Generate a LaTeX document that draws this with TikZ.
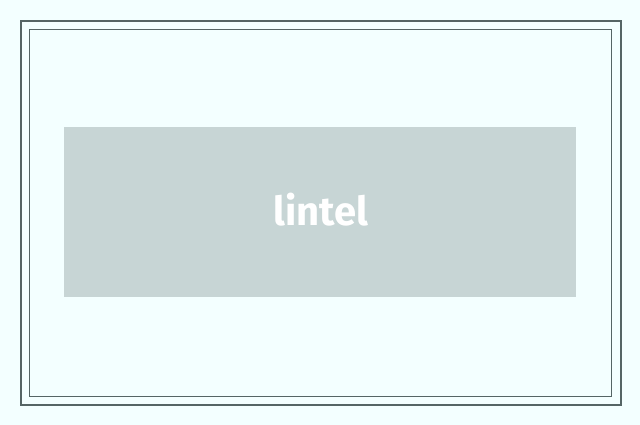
\documentclass[tikz,border=0pt]{standalone}
\usepackage{fontspec}
\setmainfont{Fira Sans}
\definecolor{bg}{HTML}{F3FFFF}
\definecolor{frame}{HTML}{556565}
\definecolor{boxfill}{HTML}{C7D5D5}
\tikzset{
  outerframe/.style={draw=frame, line width=2pt},
  innerframe/.style={draw=frame, line width=1pt},
  lintelbox/.style={fill=boxfill, draw=none},
  lbl/.style={text=white, font=\fontsize{40}{44}\selectfont\bfseries}
}
\begin{document}
\begin{tikzpicture}[x=1pt,y=-1pt]
\fill[bg] (0,0) rectangle (640,425);
\useasboundingbox (0,0) rectangle (640,425);
\draw[outerframe] (21,21) rectangle (621,405);
\draw[innerframe] (29.5,29.5) rectangle (611.5,396.5);
\path[lintelbox] (64,127) rectangle (576,297);
\node[lbl] (t) at (321,210) {lintel};
\end{tikzpicture}
\end{document}
